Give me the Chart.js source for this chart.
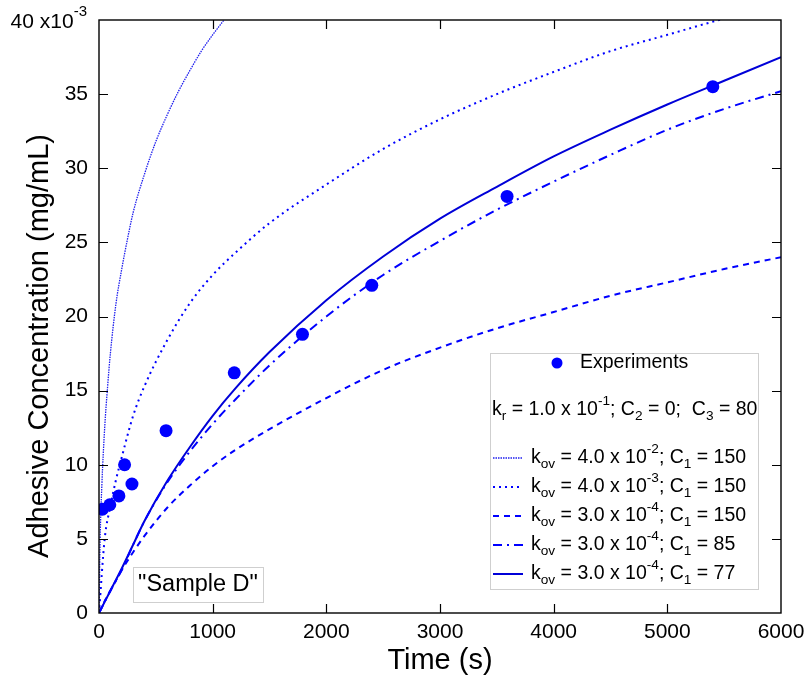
<!DOCTYPE html>
<html>
<head>
<meta charset="utf-8">
<script src="https://cdn.jsdelivr.net/npm/chart.js@4.4.1/dist/chart.umd.min.js"></script>
<style>
  html, body { margin: 0; background: #fff; }
</style>
</head>
<body>
<canvas id="chart" width="804" height="679"></canvas>
<script>
// experimental points (time in s, concentration in 10^-3 mg/mL)
const expTime = [30, 95, 175, 225, 290, 590, 1190, 1790, 2400, 3590, 5400];
const expConc = [7.0, 7.3, 7.9, 10.0, 8.7, 12.3, 16.2, 18.8, 22.1, 28.1, 35.5];

// kov = 4.0e-2, C1 = 150
const fastTime = [0, 10, 25, 50, 75, 100, 150, 200, 250, 300, 400, 500, 600, 700, 800, 900, 1000, 1100, 1200];
const fastConc = [0, 5.0, 8.6, 12.5, 15.2, 17.5, 20.9, 23.2, 25.2, 27.0, 29.6, 31.8, 33.6, 35.2, 36.6, 37.9, 39.0, 40.0, 41.0];

// model curves sampled on a common time grid
const modelTime = [0, 50, 100, 150, 200, 300, 400, 600, 800, 1000, 1200, 1500, 2000, 2500, 3000, 3500, 4000, 4500, 5000, 5500, 6000];
// kov = 4.0e-3, C1 = 150
const midConc  = [0, 5.0, 7.2, 9.0, 10.5, 13.3, 15.3, 18.4, 20.9, 22.8, 24.3, 26.3, 28.9, 31.3, 33.3, 35.0, 36.5, 37.9, 39.0, 40.1, 41.1];
// kov = 3.0e-4, C1 = 150
const slowConc = [0, 0.8, 1.5, 2.2, 2.9, 4.1, 5.2, 7.1, 8.6, 9.9, 11.0, 12.4, 14.5, 16.4, 17.9, 19.2, 20.3, 21.4, 22.3, 23.2, 24.0];
// kov = 3.0e-4, C1 = 85
const c85Conc  = [0, 0.75, 1.5, 2.2, 2.9, 4.6, 6.2, 8.8, 10.9, 12.75, 14.4, 16.7, 20.0, 22.8, 25.1, 27.2, 29.1, 30.9, 32.6, 34.0, 35.2];
// kov = 3.0e-4, C1 = 77
const c77Conc  = [0, 0.75, 1.5, 2.25, 3.0, 4.6, 6.2, 8.9, 11.2, 13.3, 15.15, 17.6, 21.1, 24.05, 26.6, 28.75, 30.8, 32.6, 34.3, 35.9, 37.5];

const xTicks = [0, 1000, 2000, 3000, 4000, 5000, 6000];
const yTicks = [0, 5, 10, 15, 20, 25, 30, 35, 40];

const BLUE = '#0000ff';
const SANS = "'Liberation Sans', Arial, sans-serif";

function pts(xs, ys) {
    return xs.map((v, i) => ({ x: v, y: ys[i] }));
}

function curve(label, xs, ys, dash, width, color) {
    return {
        label: label,
        data: pts(xs, ys),
        showLine: true,
        pointRadius: 0,
        borderColor: color || BLUE,
        borderWidth: width,
        borderDash: dash,
        cubicInterpolationMode: 'monotone',
        fill: false
    };
}

// legend rows: [text, mode] where mode 0 normal, 1 subscript, 2 superscript
const legendRows = [
    [['k', 0], ['ov', 1], [' = 4.0 x 10', 0], ['-2', 2], ['; C', 0], ['1', 1], [' = 150', 0]],
    [['k', 0], ['ov', 1], [' = 4.0 x 10', 0], ['-3', 2], ['; C', 0], ['1', 1], [' = 150', 0]],
    [['k', 0], ['ov', 1], [' = 3.0 x 10', 0], ['-4', 2], ['; C', 0], ['1', 1], [' = 150', 0]],
    [['k', 0], ['ov', 1], [' = 3.0 x 10', 0], ['-4', 2], ['; C', 0], ['1', 1], [' = 85', 0]],
    [['k', 0], ['ov', 1], [' = 3.0 x 10', 0], ['-4', 2], ['; C', 0], ['1', 1], [' = 77', 0]]
];
const paramRow = [['k', 0], ['r', 1], [' = 1.0 x 10', 0], ['-1', 2], ['; C', 0], ['2', 1], [' = 0;  C', 0], ['3', 1], [' = 80', 0]];

function drawRich(ctx, parts, x, y, size) {
    ctx.textBaseline = 'middle';
    ctx.textAlign = 'left';
    parts.forEach(([t, m]) => {
        const s = m ? size * 0.7 : size;
        ctx.font = s + 'px ' + SANS;
        let dy = 0;
        if (m === 1) dy = size * 0.3;
        if (m === 2) dy = -size * 0.45;
        ctx.fillText(t, x, y + dy);
        x += ctx.measureText(t).width;
    });
}

const decor = {
    id: 'decor',
    afterDraw(chart) {
        const { ctx, chartArea: a, scales } = chart;
        const x = scales.x, y = scales.y;
        ctx.save();

        // frame
        ctx.strokeStyle = '#000';
        ctx.lineWidth = 1.4;
        ctx.setLineDash([]);
        ctx.strokeRect(a.left, a.top, a.right - a.left, a.bottom - a.top);

        // inner ticks on all four sides
        ctx.lineWidth = 1.2;
        ctx.beginPath();
        xTicks.slice(1, -1).forEach(v => {
            const px = Math.round(x.getPixelForValue(v)) + 0.5;
            ctx.moveTo(px, a.bottom); ctx.lineTo(px, a.bottom - 9);
            ctx.moveTo(px, a.top); ctx.lineTo(px, a.top + 9);
        });
        yTicks.slice(1, -1).forEach(v => {
            const py = Math.round(y.getPixelForValue(v)) + 0.5;
            ctx.moveTo(a.left, py); ctx.lineTo(a.left + 9, py);
            ctx.moveTo(a.right, py); ctx.lineTo(a.right - 9, py);
        });
        ctx.stroke();

        // top tick label with exponent
        ctx.fillStyle = '#000';
        ctx.textBaseline = 'middle';
        ctx.textAlign = 'left';
        ctx.font = '21px ' + SANS;
        const main = '40 x10';
        const mw = ctx.measureText(main).width;
        ctx.font = '15px ' + SANS;
        const ew = ctx.measureText('-3').width;
        const right = a.left - 12;
        const ty = y.getPixelForValue(40) + 2;
        ctx.font = '21px ' + SANS;
        ctx.fillText(main, right - ew - mw, ty);
        ctx.font = '15px ' + SANS;
        ctx.fillText('-3', right - ew, ty - 10);

        // y axis title, centred on the figure height
        ctx.save();
        ctx.translate(40, 346);
        ctx.rotate(-Math.PI / 2);
        ctx.font = '29px ' + SANS;
        ctx.textAlign = 'center';
        ctx.textBaseline = 'middle';
        ctx.fillText('Adhesive Concentration (mg/mL)', 0, 0);
        ctx.restore();

        // legend box
        const lx = 490, ly = 353, lw = 268, lh = 236;
        ctx.fillStyle = '#fff';
        ctx.fillRect(lx, ly, lw, lh);
        ctx.strokeStyle = '#cfcfcf';
        ctx.lineWidth = 1;
        ctx.strokeRect(lx + 0.5, ly + 0.5, lw, lh);

        ctx.fillStyle = BLUE;
        ctx.beginPath();
        ctx.arc(557, 363, 5.5, 0, Math.PI * 2);
        ctx.fill();
        ctx.fillStyle = '#000';
        drawRich(ctx, [['Experiments', 0]], 580, 363, 19.5);
        drawRich(ctx, paramRow, 492, 410, 19.5);

        const ds = chart.data.datasets;
        legendRows.forEach((row, i) => {
            const d = ds[i + 1];
            const ry = 458 + i * 29;
            ctx.strokeStyle = d.borderColor;
            ctx.lineWidth = d.borderWidth;
            ctx.setLineDash(d.borderDash || []);
            ctx.beginPath();
            ctx.moveTo(493, ry);
            ctx.lineTo(523, ry);
            ctx.stroke();
            ctx.setLineDash([]);
            ctx.fillStyle = '#000';
            drawRich(ctx, row, 531, ry, 19.5);
        });

        // sample label
        ctx.fillStyle = '#fff';
        ctx.fillRect(133, 567, 130, 35);
        ctx.strokeStyle = '#cfcfcf';
        ctx.lineWidth = 1;
        ctx.strokeRect(133.5, 567.5, 130, 35);
        ctx.fillStyle = '#000';
        ctx.font = '23.5px ' + SANS;
        ctx.textAlign = 'center';
        ctx.textBaseline = 'middle';
        ctx.fillText('"Sample D"', 198, 585);

        ctx.restore();
    }
};

new Chart(document.getElementById('chart'), {
    type: 'scatter',
    data: {
        datasets: [
            {
                label: 'Experiments',
                data: pts(expTime, expConc),
                showLine: false,
                pointRadius: 6.5,
                pointHoverRadius: 6.5,
                pointBackgroundColor: BLUE,
                pointBorderColor: BLUE,
                pointBorderWidth: 0
            },
            curve('kov = 4.0e-2; C1 = 150', fastTime, fastConc, [1.5, 1], 1.3, '#1f1fee'),
            curve('kov = 4.0e-3; C1 = 150', modelTime, midConc, [2, 4], 2),
            curve('kov = 3.0e-4; C1 = 150', modelTime, slowConc, [6, 5], 2),
            curve('kov = 3.0e-4; C1 = 85', modelTime, c85Conc, [9, 5, 2, 5], 2),
            curve('kov = 3.0e-4; C1 = 77', modelTime, c77Conc, [], 2, '#0000d8')
        ]
    },
    options: {
        responsive: false,
        animation: false,
        layout: { padding: { left: 0, right: 23, top: 20, bottom: 0 } },
        plugins: {
            legend: { display: false },
            tooltip: { enabled: false }
        },
        scales: {
            x: {
                type: 'linear',
                min: 0,
                max: 6000,
                afterBuildTicks: s => { s.ticks = xTicks.map(v => ({ value: v })); },
                afterFit: s => { s.height = 66; s.paddingLeft = 0; s.paddingRight = 0; },
                grid: { display: false, drawTicks: false },
                border: { display: false },
                ticks: {
                    color: '#000',
                    padding: 7,
                    maxRotation: 0,
                    font: { family: SANS, size: 21 },
                    callback: v => String(v)
                },
                title: {
                    display: true,
                    text: 'Time (s)',
                    color: '#000',
                    padding: { top: 0, bottom: 1 },
                    font: { family: SANS, size: 29 }
                }
            },
            y: {
                type: 'linear',
                min: 0,
                max: 40,
                afterBuildTicks: s => { s.ticks = yTicks.map(v => ({ value: v })); },
                afterFit: s => { s.width = 99; s.paddingTop = 0; s.paddingBottom = 0; },
                grid: { display: false, drawTicks: false },
                border: { display: false },
                ticks: {
                    color: '#000',
                    padding: 11,
                    font: { family: SANS, size: 21 },
                    callback: v => (v === 40 ? '' : String(v))
                },
                title: { display: false }
            }
        }
    },
    plugins: [decor]
});
</script>
</body>
</html>
